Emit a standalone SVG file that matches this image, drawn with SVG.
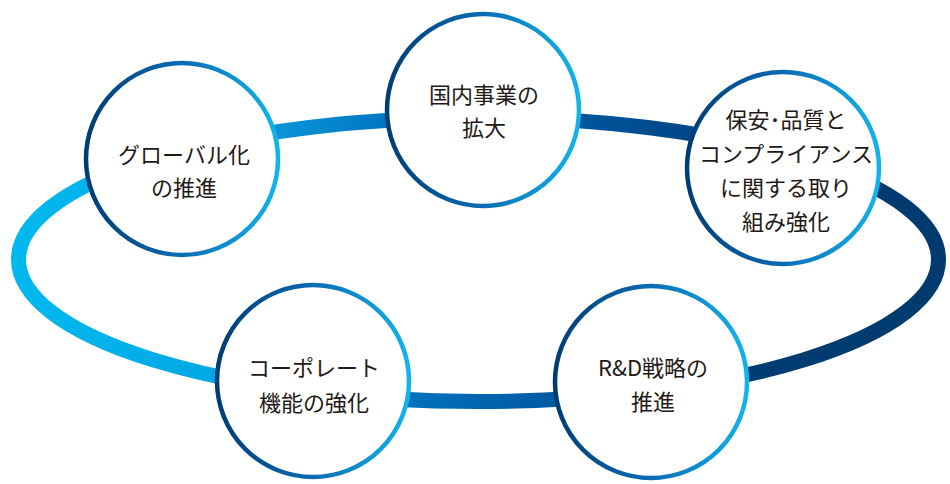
<svg xmlns="http://www.w3.org/2000/svg" width="950" height="484" viewBox="0 0 950 484">
<defs>
<linearGradient id="ringGrad" gradientUnits="userSpaceOnUse" x1="12" y1="0" x2="945" y2="0">
<stop offset="0" stop-color="#00b9ef"/>
<stop offset="0.218" stop-color="#02a8e4"/>
<stop offset="0.29" stop-color="#0a92d6"/>
<stop offset="0.405" stop-color="#0075c0"/>
<stop offset="0.59" stop-color="#0058a0"/>
<stop offset="0.73" stop-color="#004686"/>
<stop offset="0.8" stop-color="#003c72"/>
<stop offset="1" stop-color="#003a6e"/>
</linearGradient>
<linearGradient id="circGrad" x1="0" y1="0" x2="1" y2="0">
<stop offset="0" stop-color="#003c74"/>
<stop offset="0.5" stop-color="#0a6cb4"/>
<stop offset="1" stop-color="#12b4ea"/>
</linearGradient>
<style>
.node circle{fill:#ffffff;stroke:url(#circGrad);stroke-width:4.5}
.node text{font-family:"Noto Sans CJK JP","Noto Sans",sans-serif;font-size:22px;fill:#231815;text-anchor:middle}
</style>
</defs>
<rect width="950" height="484" fill="#ffffff"/>
<g id="connectors">
<ellipse cx="478.5" cy="259.5" rx="460" ry="142" fill="none" stroke="url(#ringGrad)" stroke-width="15"/>
</g>
<g id="node-domestic" class="node">
<circle cx="483" cy="110" r="96"/>
<text x="484" y="103">国内事業の</text>
<text x="484" y="136">拡大</text>
</g>
<g id="node-global" class="node">
<circle cx="182" cy="159" r="96"/>
<text x="184" y="163">グローバル化</text>
<text x="184" y="196">の推進</text>
</g>
<g id="node-compliance" class="node">
<circle cx="783" cy="168" r="96"/>
<text x="786" y="128">保安･品質と</text>
<text x="786" y="162">コンプライアンス</text>
<text x="786" y="196">に関する取り</text>
<text x="786" y="230">組み強化</text>
</g>
<g id="node-corporate" class="node">
<circle cx="313" cy="381" r="96"/>
<text x="314" y="376">コーポレート</text>
<text x="314" y="411">機能の強化</text>
</g>
<g id="node-rd" class="node">
<circle cx="651" cy="382" r="96"/>
<text x="653" y="376">R&amp;D戦略の</text>
<text x="653" y="410">推進</text>
</g>
</svg>
